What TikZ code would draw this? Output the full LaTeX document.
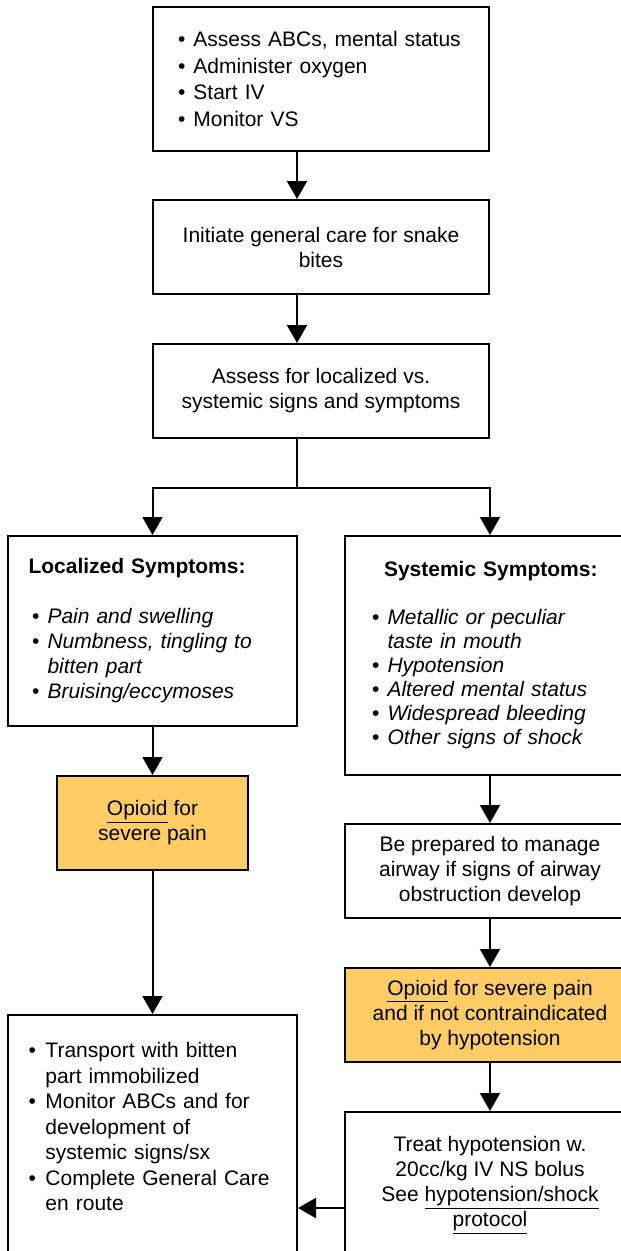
\documentclass[tikz,border=0pt]{standalone}
\usepackage{fontspec}
\setmainfont{Liberation Sans}
\usepackage{xcolor}
\usetikzlibrary{arrows.meta,calc,positioning}
\definecolor{opioidfill}{RGB}{255,204,102}
\newcommand{\bitem}[1][15.5pt]{\makebox[#1][l]{\textbullet}}
\newcommand{\bcont}[1][15.5pt]{\hspace*{#1}}

\begin{document}
\begin{tikzpicture}[x=1pt,y=-1pt]
	\tikzstyle{every node}=[font=\fontsize{21}{25}\selectfont]
	\tikzstyle{box}=[draw, line width=2pt, inner sep=0pt, minimum width=290pt, minimum height=94pt]
	\tikzstyle{drug}=[box, fill=opioidfill]
	\tikzstyle{arr}=[line width=2pt, -{Triangle[width=20pt,length=18pt]}]
	\useasboundingbox (0,0) rectangle (621,1251);
	% first steps
	\node [box, minimum width=336pt, minimum height=144pt, text width=286pt, align=left, font=\fontsize{21}{26.5}\selectfont] (abc) at (321,79) {\bitem Assess ABCs, mental status\\\bitem Administer oxygen\\\bitem Start IV\\\bitem Monitor VS};
	\node [box, minimum width=336pt, align=center] (care) at (321,247) {Initiate general care for snake\\bites};
	\node [box, minimum width=336pt, align=center] (signs) at (321,391) {Assess for localized vs.\\systemic signs and symptoms};
	\coordinate (split) at (297,488);
	% localized branch
	\node [box, minimum width=289pt, minimum height=190pt, text width=241pt, align=left] (local) at (152.5,631) {\hspace*{-3.5pt}\textbf{Localized Symptoms:}\\[25pt]\bitem\textit{Pain and swelling}\\\bitem\textit{Numbness, tingling to}\\\bcont\textit{bitten part}\\\bitem\textit{Bruising/eccymoses}};
	\node [drug, minimum width=191pt, align=center] (opleft) at (152.5,823) {\underline{Opioid} for\\severe pain};
	\node [box, minimum width=289pt, minimum height=240pt, text width=248pt, align=left, font=\fontsize{21}{25.5}\selectfont] (transport) at (152.5,1135) {\bitem[17pt]Transport with bitten\\\bcont[17pt]part immobilized\\\bitem[17pt]Monitor ABCs and for\\\bcont[17pt]development of\\\bcont[17pt]systemic signs/sx\\\bitem[17pt]Complete General Care\\\bcont[17pt]en route\\[-9pt]\mbox{}};
	% systemic branch
	\node [box, minimum height=239pt, text width=236pt, align=left, font=\fontsize{21}{24}\selectfont] (systemic) at (490,655.5) {\hspace*{12pt}\textbf{Systemic Symptoms:}\\[24pt]\bitem\textit{Metallic or peculiar}\\\bcont\textit{taste in mouth}\\\bitem\textit{Hypotension}\\\bitem\textit{Altered mental status}\\\bitem\textit{Widespread bleeding}\\\bitem\textit{Other signs of shock}};
	\node [box, align=center] (airway) at (490,871) {Be prepared to manage\\airway if signs of airway\\obstruction develop};
	\node [drug, align=center] (opright) at (490,1015) {\underline{Opioid} for severe pain\\and if not contraindicated\\by hypotension};
	\node [box, minimum height=146pt, align=center] (treat) at (490,1185) {Treat hypotension w.\\20cc/kg IV NS bolus\\See \underline{hypotension/shock}\\\underline{protocol}};
	% connectors
	\draw [arr] ([xshift=-24pt]abc.south) -- ([xshift=-24pt]care.north);
	\draw [arr] ([xshift=-24pt]care.south) -- ([xshift=-24pt]signs.north);
	\draw [line width=2pt, line cap=rect] ([xshift=-24pt]signs.south) -- (split);
	\draw [arr] (split) -| (local.north);
	\draw [arr] (split) -| (systemic.north);
	\draw [arr] (local) -- (opleft);
	\draw [arr] (opleft) -- (transport);
	\draw [arr] (systemic) -- (airway);
	\draw [arr] (airway) -- (opright);
	\draw [arr] (opright) -- (treat);
	\draw [arr] ([yshift=-23pt]treat.west) -- ([yshift=-23pt]treat.west -| transport.east);
\end{tikzpicture}
\end{document}
